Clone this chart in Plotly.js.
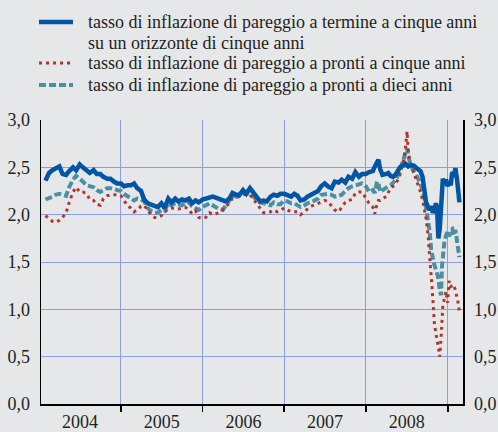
<!DOCTYPE html>
<html><head><meta charset="utf-8">
<script src="https://cdn.plot.ly/plotly-3.0.1.min.js"></script>
<style>html,body{margin:0;padding:0;background:#e6e7e9;}#chart{width:498px;height:432px;}</style>
</head><body><div id="chart"></div>
<script>
const dates = [
 "2004-01-30","2004-02-15","2004-03-01","2004-03-15","2004-04-01","2004-04-15","2004-05-01","2004-05-15","2004-06-01","2004-06-15","2004-07-01","2004-07-15","2004-08-01","2004-08-15","2004-09-01","2004-09-15","2004-10-01","2004-10-15","2004-11-01","2004-11-15","2004-12-01","2004-12-15",
 "2005-01-01","2005-01-15","2005-02-01","2005-02-15","2005-03-01","2005-03-15","2005-04-01","2005-04-15","2005-05-01","2005-05-15","2005-06-01","2005-06-15","2005-07-01","2005-07-15","2005-08-01","2005-08-15","2005-09-01","2005-09-15","2005-10-01","2005-10-15","2005-11-01","2005-11-15","2005-12-01","2005-12-15",
 "2006-01-01","2006-01-15","2006-02-01","2006-02-15","2006-03-01","2006-03-15","2006-04-01","2006-04-15","2006-05-01","2006-05-15","2006-06-01","2006-06-15","2006-07-01","2006-07-15","2006-08-01","2006-08-15","2006-09-01","2006-09-15","2006-10-01","2006-10-15","2006-11-01","2006-11-15","2006-12-01","2006-12-15",
 "2007-01-01","2007-01-15","2007-02-01","2007-02-15","2007-03-01","2007-03-15","2007-04-01","2007-04-15","2007-05-01","2007-05-15","2007-06-01","2007-06-15","2007-07-01","2007-07-15","2007-08-01","2007-08-15","2007-09-01","2007-09-15","2007-10-01","2007-10-15","2007-11-01","2007-11-15","2007-12-01","2007-12-15",
 "2008-01-01","2008-01-15","2008-02-01","2008-02-10","2008-02-20","2008-02-26","2008-03-05","2008-03-15","2008-04-01","2008-04-10","2008-04-20","2008-05-01","2008-05-15","2008-06-01","2008-06-15","2008-06-25","2008-07-03","2008-07-08","2008-07-15","2008-08-01","2008-08-15","2008-09-01","2008-09-10","2008-09-18","2008-09-26","2008-10-05","2008-10-12","2008-10-19","2008-10-26","2008-11-02","2008-11-09","2008-11-14","2008-11-20","2008-11-26","2008-12-02","2008-12-06","2008-12-10","2008-12-17","2008-12-24","2008-12-31",
 "2009-01-07","2009-01-14","2009-01-21","2009-01-28","2009-02-04","2009-02-11","2009-02-18","2009-02-22"
];
const forward5y5y = [
 2.36,2.44,2.47,2.49,2.51,2.43,2.42,2.46,2.50,2.47,2.53,2.50,2.46,2.44,2.47,2.43,2.43,2.40,2.38,2.38,2.35,2.33,
 2.33,2.30,2.31,2.31,2.33,2.28,2.25,2.16,2.12,2.11,2.10,2.08,2.12,2.07,2.17,2.13,2.17,2.14,2.16,2.15,2.17,2.12,2.15,2.13,
 2.16,2.17,2.19,2.19,2.18,2.17,2.16,2.14,2.17,2.23,2.21,2.21,2.26,2.22,2.28,2.23,2.19,2.14,2.15,2.14,2.19,2.21,2.20,2.22,
 2.22,2.21,2.19,2.22,2.20,2.15,2.16,2.19,2.21,2.23,2.25,2.30,2.33,2.30,2.28,2.35,2.34,2.37,2.34,2.40,2.38,2.45,2.40,2.43,
 2.43,2.45,2.46,2.51,2.56,2.58,2.48,2.42,2.43,2.44,2.41,2.40,2.43,2.50,2.52,2.54,2.52,2.51,2.52,2.52,2.49,2.46,2.40,2.27,2.13,2.08,2.05,2.09,2.02,2.05,2.12,2.08,1.75,1.85,2.05,2.30,2.38,2.33,2.37,2.30,
 2.35,2.31,2.45,2.40,2.49,2.38,2.25,2.13
];
const spot5y = [
 1.99,1.96,1.93,1.92,1.94,1.97,2.02,2.13,2.24,2.29,2.24,2.24,2.22,2.16,2.15,2.11,2.10,2.17,2.20,2.21,2.21,2.21,
 2.20,2.15,2.09,2.07,2.03,2.05,2.09,2.10,2.04,2.00,1.97,1.97,1.99,2.03,2.06,2.07,2.06,2.06,2.07,2.08,2.05,2.01,2.04,1.97,
 1.96,1.97,2.02,2.00,2.01,2.02,2.05,2.08,2.13,2.17,2.18,2.19,2.21,2.22,2.21,2.17,2.11,2.07,2.02,2.02,2.03,2.05,2.03,2.05,
 2.07,2.05,2.03,2.03,2.03,2.00,2.03,2.06,2.09,2.10,2.12,2.14,2.15,2.14,2.09,2.05,2.03,2.08,2.13,2.15,2.16,2.23,2.24,2.24,
 2.17,2.12,2.08,2.01,2.12,2.15,2.15,2.17,2.19,2.24,2.28,2.30,2.33,2.42,2.55,2.68,2.88,2.68,2.57,2.45,2.36,2.24,2.16,2.07,1.96,1.78,1.58,1.38,1.12,0.85,0.71,0.67,0.60,0.50,0.70,0.88,1.04,1.12,1.19,1.07,
 1.30,1.24,1.25,1.26,1.20,1.12,1.05,0.96
];
const spot10y = [
 2.16,2.17,2.19,2.21,2.22,2.21,2.20,2.29,2.37,2.41,2.37,2.35,2.31,2.30,2.29,2.26,2.24,2.26,2.28,2.28,2.27,2.26,
 2.25,2.22,2.19,2.17,2.15,2.17,2.16,2.14,2.07,2.04,2.02,2.02,2.05,2.04,2.12,2.10,2.12,2.11,2.10,2.13,2.13,2.09,2.07,2.05,
 2.08,2.10,2.12,2.10,2.08,2.06,2.05,2.09,2.15,2.20,2.19,2.20,2.22,2.23,2.22,2.19,2.15,2.13,2.12,2.11,2.10,2.13,2.11,2.11,
 2.15,2.14,2.12,2.12,2.10,2.08,2.10,2.12,2.13,2.15,2.17,2.21,2.22,2.22,2.21,2.19,2.20,2.21,2.25,2.28,2.30,2.31,2.33,2.33,
 2.30,2.24,2.26,2.23,2.35,2.33,2.24,2.26,2.29,2.30,2.31,2.34,2.37,2.47,2.56,2.64,2.70,2.62,2.56,2.46,2.41,2.33,2.26,2.18,2.07,1.95,1.82,1.62,1.52,1.47,1.42,1.38,1.33,1.20,1.15,1.45,1.60,1.72,1.78,1.82,
 1.77,1.84,1.85,1.78,1.84,1.73,1.62,1.55
];
const legendLines = [
 "tasso di inflazione di pareggio a termine a cinque anni",
 "su un orizzonte di cinque anni",
 "tasso di inflazione di pareggio a pronti a cinque anni",
 "tasso di inflazione di pareggio a pronti a dieci anni"
];

const FONT = "Liberation Serif, Times New Roman, serif";
const TXT = "#231f20";
const BLUE = "#0056a4", RED = "#b2342b", TEAL = "#4b8fa0", GRID = "#8d9fd9";
const L = 41, R = 35, T = 120, B = 28, W = 498, H = 432;
const pw = W - L - R, ph = H - T - B;
const px = v => (v - L) / pw;
const py = v => (H - B - v) / ph;

const blueStyle = {color: BLUE, width: 4.5};
const redStyle = {color: RED, width: 3, dash: "3px,4px"};
const tealStyle = {color: TEAL, width: 4, dash: "7px,3px"};

const traces = [
 {x: dates, y: spot10y, type: "scatter", mode: "lines", line: tealStyle, hoverinfo: "skip"},
 {x: dates, y: spot5y, type: "scatter", mode: "lines", line: redStyle, hoverinfo: "skip"},
 {x: dates, y: forward5y5y, type: "scatter", mode: "lines", line: blueStyle, yaxis: "y2", hoverinfo: "skip"}
];

const tickFont = {family: FONT, size: 18, color: TXT};
const yCommon = {range: [0, 3], tick0: 0, dtick: 0.5, tickformat: ".1f", zeroline: false,
  showline: true, linecolor: "#000", linewidth: 1.5, ticks: "", tickfont: tickFont, fixedrange: true, ticklabelstandoff: 6};

const legendRows = [
 {y: 22, style: blueStyle},
 {y: 63, style: redStyle},
 {y: 85, style: tealStyle}
];
const shapes = legendRows.map(r => ({type: "line", xref: "paper", yref: "paper",
  x0: px(39), x1: px(73), y0: py(r.y), y1: py(r.y), line: r.style}));
const textY = [22, 43, 63, 85];
const annotations = legendLines.map((t, i) => ({text: t, xref: "paper", yref: "paper",
  x: px(86), y: py(textY[i]), xanchor: "left", yanchor: "middle", showarrow: false,
  font: {family: FONT, size: 18, color: TXT}}));

const layout = {
 width: W, height: H, margin: {l: L, r: R, t: T, b: B},
 paper_bgcolor: "#e6e7e9", plot_bgcolor: "#e6e7e9",
 separators: ",.", showlegend: false,
 xaxis: {type: "date", range: ["2004-01-10", "2009-03-10"], tick0: "2004-01-01", dtick: "M12",
   ticklabelmode: "period", tickformat: "%Y", showgrid: true, gridcolor: GRID, gridwidth: 1,
   showline: true, linecolor: "#000", linewidth: 1.5, ticks: "outside", ticklen: 6, tickwidth: 1.5,
   tickcolor: "#000", tickfont: tickFont, zeroline: false, fixedrange: true, ticklabelstandoff: -5},
 yaxis: Object.assign({}, yCommon, {showgrid: true, gridcolor: GRID, gridwidth: 1, mirror: true}),
 yaxis2: Object.assign({}, yCommon, {overlaying: "y", side: "right", showgrid: false}),
 shapes: shapes, annotations: annotations
};
Plotly.newPlot("chart", traces, layout, {staticPlot: true, displayModeBar: false});
</script></body></html>
